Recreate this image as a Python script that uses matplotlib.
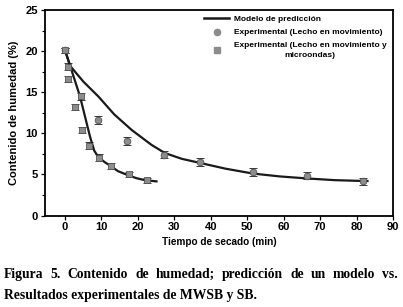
import matplotlib
matplotlib.use("Agg")
import matplotlib.pyplot as plt
from matplotlib.lines import Line2D
from matplotlib.ticker import MultipleLocator

# datos
t_sb = [0, 9.1, 17.1, 27.2, 37.1, 51.6, 66.5, 81.7]
h_sb = [20.1, 11.6, 9.05, 7.4, 6.5, 5.3, 4.85, 4.15]
e_sb = [0.3, 0.5, 0.45, 0.45, 0.45, 0.45, 0.45, 0.45]

t_mw = [0, 0.9, 0.9, 2.7, 4.3, 4.7, 6.7, 9.4, 12.6, 17.5, 22.6]
h_mw = [20.1, 18.1, 16.6, 13.2, 14.5, 10.4, 8.5, 7.05, 6.0, 5.0, 4.3]
e_mw = [0.3, 0.4, 0.4, 0.4, 0.4, 0.4, 0.4, 0.4, 0.35, 0.35, 0.3]

t_mod_mw = [0, 1.4, 4.1, 6.85, 8, 9, 10, 11, 12.3, 14.5, 17.3, 19.5, 21.9, 25.1]
h_mod_mw = [20.1, 18.2, 14.5, 9.6, 7.9, 7.2, 6.8, 6.45, 6.1, 5.4, 4.9, 4.55, 4.3, 4.15]

t_mod_sb = [0, 1.4, 5, 9.1, 13.5, 18.3, 23.7, 27.4, 32, 37, 44, 51.6, 59, 66.7, 74, 81.7, 83]
h_mod_sb = [20.1, 18.2, 16.3, 14.5, 12.3, 10.4, 8.6, 7.6, 6.9, 6.4, 5.7, 5.1, 4.75, 4.5, 4.3, 4.2, 4.2]

xticks = [0, 10, 20, 30, 40, 50, 60, 70, 80, 90]
yticks = [0, 5, 10, 15, 20, 25]

W, H = 403, 307
fig = plt.figure(figsize=(W / 100, H / 100), dpi=100)
ax = fig.add_axes([45 / W, 1 - 215.5 / H, 348 / W, 205.5 / H])

gris = '#8c8c8c'
ax.plot(t_mod_sb, h_mod_sb, color='#1a1a1a', lw=1.6)
ax.plot(t_mod_mw, h_mod_mw, color='#1a1a1a', lw=1.6)
ax.errorbar(t_sb, h_sb, yerr=e_sb, fmt='o', ms=4.8, mfc=gris, mec='#555555',
            mew=0.6, ecolor='#1a1a1a', elinewidth=0.9, capsize=3, capthick=1.2)
ax.errorbar(t_mw, h_mw, yerr=e_mw, fmt='s', ms=4.6, mfc=gris, mec='#555555',
            mew=0.6, ecolor='#1a1a1a', elinewidth=0.9, capsize=3, capthick=1.2)

ax.set_xlim(-5.5, 90)
ax.set_ylim(0, 25)
ax.set_xticks(xticks)
ax.set_yticks(yticks)
ax.yaxis.set_minor_locator(MultipleLocator(2.5))
ax.tick_params(which='major', direction='out', length=3, width=0.9, pad=2,
               labelsize=8)
ax.tick_params(which='minor', direction='out', length=2, width=0.8)
for lab in ax.get_xticklabels() + ax.get_yticklabels():
    lab.set_fontweight('bold')
    lab.set_family('Liberation Sans')
for s in ax.spines.values():
    s.set_linewidth(1.3)

ax.set_xlabel('Tiempo de secado (min)', fontsize=7.2, fontweight='bold',
              family='Liberation Sans', labelpad=3)
ax.set_ylabel('Contenido de humedad (%)', fontsize=8, fontweight='bold',
              family='Liberation Sans', labelpad=5)

handles = [
    Line2D([], [], color='#1a1a1a', lw=1.8),
    Line2D([], [], marker='o', ls='none', ms=4.5, mfc=gris, mec=gris),
    Line2D([], [], marker='s', ls='none', ms=5, mfc=gris, mec=gris),
]
labels = ['Modelo de predicción',
          'Experimental (Lecho en movimiento)',
          'Experimental (Lecho en movimiento y\nmicroondas)']
leg = ax.legend(handles, labels, loc='upper left', frameon=False,
                bbox_to_anchor=(204 / W, 1 - 15 / H), bbox_transform=fig.transFigure,
                prop={'family': 'Liberation Sans', 'weight': 'bold', 'size': 6.0},
                handlelength=3.0, handletextpad=0.6, labelspacing=0.7,
                borderpad=0, borderaxespad=0)
for t in leg.get_texts():
    t.set_multialignment('center')
    t.set_linespacing(1.55)

# pie de figura, primera linea justificada
cap_font = dict(family='Liberation Serif', fontweight='bold', fontsize=9.8)
words = 'Figura 5. Contenido de humedad; predicción de un modelo vs.'.split()
fig.canvas.draw()
r = fig.canvas.get_renderer()
objs = [fig.text(0, 1 - 278 / H, w, ha='left', va='baseline', **cap_font) for w in words]
widths = [o.get_window_extent(r).width for o in objs]
x0, x1 = 4, 398
gap = (x1 - x0 - sum(widths)) / (len(words) - 1)
x = x0
for o, w in zip(objs, widths):
    o.set_x(x / W)
    x += w + gap
fig.text(4 / W, 1 - 299 / H, 'Resultados experimentales de MWSB y SB.',
         ha='left', va='baseline', **cap_font)

fig.savefig('out.png', dpi=100)
